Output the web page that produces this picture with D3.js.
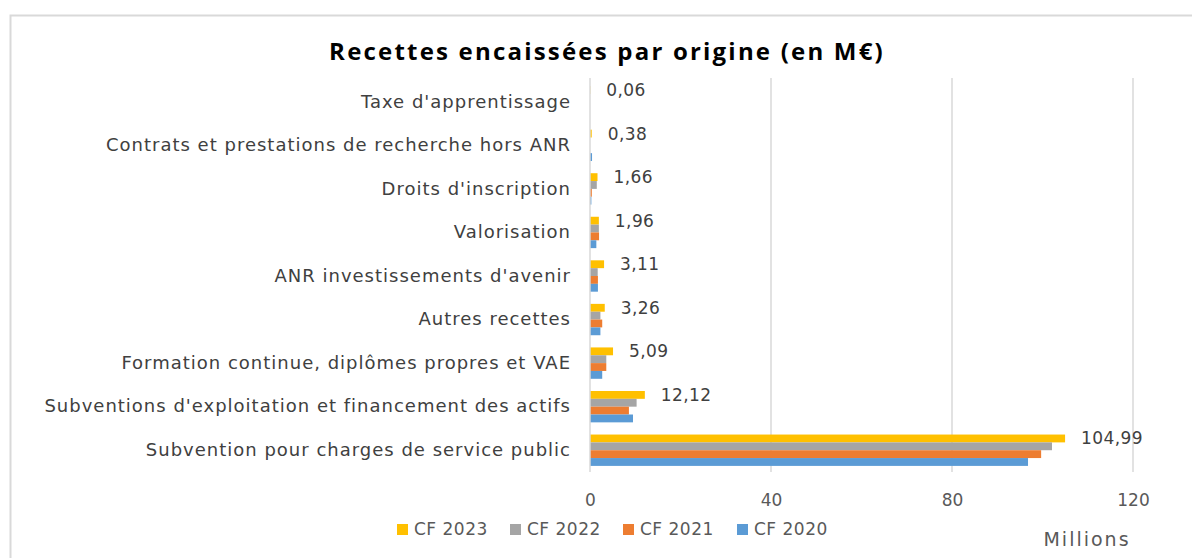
<!DOCTYPE html>
<html>
<head>
<meta charset="utf-8">
<script src="https://cdn.jsdelivr.net/npm/d3@7"></script>
<style>
  body { margin: 0; background: #fff; }
  svg { display: block; }
</style>
</head>
<body>
<svg id="chart"></svg>
<script>
// categories, top to bottom as in the chart
const categories = [
  "Taxe d'apprentissage",
  "Contrats et prestations de recherche hors ANR",
  "Droits d'inscription",
  "Valorisation",
  "ANR investissements d'avenir",
  "Autres recettes",
  "Formation continue, diplômes propres et VAE",
  "Subventions d'exploitation et financement des actifs",
  "Subvention pour charges de service public"
];
const seriesNames = ["CF 2023", "CF 2022", "CF 2021", "CF 2020"];
const cf2023 = [0.06, 0.38, 1.66, 1.96, 3.11, 3.26, 5.09, 12.12, 104.99];
const cf2022 = [0, 0, 1.5, 1.96, 1.7, 2.3, 3.6, 10.3, 102.1];
const cf2021 = [0, 0, 0.4, 2.0, 1.75, 2.7, 3.6, 8.6, 99.7];
const cf2020 = [0, 0.45, 0.3, 1.4, 1.75, 2.3, 2.7, 9.5, 96.8];
const xTicks = [0, 40, 80, 120];

const colors = ["#FFC000", "#A5A5A5", "#ED7D31", "#5B9BD5"];
const allSeries = [cf2023, cf2022, cf2021, cf2020];

const width = 1192, height = 558;
const svg = d3.select("#chart")
    .attr("width", width)
    .attr("height", height);

// chart frame (cut off on right and bottom like the screenshot)
svg.append("path")
    .attr("d", `M10.5,${height} V15.5 H${width}`)
    .attr("fill", "none")
    .attr("stroke", "#d9d9d9")
    .attr("stroke-width", 2);

svg.append("text")
    .attr("x", 607)
    .attr("y", 60)
    .attr("text-anchor", "middle")
    .attr("font-family", "'Open Sans', sans-serif")
    .attr("font-weight", "bold")
    .attr("font-size", 24)
    .attr("letter-spacing", 2.2)
    .attr("fill", "#000")
    .text("Recettes encaissées par origine (en M€)");

const x = d3.scaleLinear().domain([0, 120]).range([590, 1133]);

const y0 = d3.scaleBand()
    .domain(categories)
    .range([80, 472])
    .paddingInner(0.28)
    .paddingOuter(0.14);

const y1 = d3.scaleBand()
    .domain(seriesNames)
    .range([0, y0.bandwidth()]);

// gridlines
svg.append("g")
    .selectAll("line")
    .data(xTicks.slice(1))
    .join("line")
    .attr("x1", d => x(d)).attr("x2", d => x(d))
    .attr("y1", 78).attr("y2", 472)
    .attr("stroke", "#d9d9d9")
    .attr("stroke-width", 1.5);

// bars
const groups = svg.append("g")
    .selectAll("g")
    .data(categories)
    .join("g")
    .attr("transform", d => `translate(0,${y0(d)})`);

groups.selectAll("rect")
    .data((d, i) => seriesNames.map((s, j) => ({ s, v: allSeries[j][i], c: colors[j] })))
    .join("rect")
    .attr("x", x(0))
    .attr("y", d => y1(d.s))
    .attr("width", d => x(d.v) - x(0))
    .attr("height", y1.bandwidth())
    .attr("fill", d => d.c);

// data labels on CF 2023
groups.append("text")
    .attr("x", (d, i) => x(cf2023[i]) + 16)
    .attr("y", y1("CF 2023") + y1.bandwidth() / 2)
    .attr("dy", "0.35em")
    .attr("font-family", "'DejaVu Sans', sans-serif")
    .attr("font-size", 17)
    .attr("letter-spacing", 0.4)
    .attr("fill", "#404040")
    .text((d, i) => cf2023[i].toFixed(2).replace(".", ","));

// vertical axis line
svg.append("line")
    .attr("x1", x(0)).attr("x2", x(0))
    .attr("y1", 78).attr("y2", 472)
    .attr("stroke", "#d9d9d9")
    .attr("stroke-width", 1.5);

// category labels
const yAxis = svg.append("g")
    .attr("transform", `translate(${x(0)},0)`)
    .call(d3.axisLeft(y0).tickSize(0).tickPadding(19));
yAxis.select(".domain").remove();
yAxis.selectAll("text")
    .attr("font-family", "'DejaVu Sans', sans-serif")
    .attr("font-size", 18)
    .attr("letter-spacing", 1)
    .attr("fill", "#404040");

// x axis labels
const xAxis = svg.append("g")
    .attr("transform", "translate(0,472)")
    .call(d3.axisBottom(x).tickValues(xTicks).tickSize(0).tickPadding(22));
xAxis.select(".domain").remove();
xAxis.selectAll("text")
    .attr("font-family", "'DejaVu Sans', sans-serif")
    .attr("font-size", 17)
    .attr("fill", "#595959");

svg.append("text")
    .attr("x", 1087)
    .attr("y", 546)
    .attr("text-anchor", "middle")
    .attr("font-family", "'DejaVu Sans', sans-serif")
    .attr("font-size", 19)
    .attr("letter-spacing", 2)
    .attr("fill", "#595959")
    .text("Millions");

// legend
const legendX = [397, 510, 623, 737];
const legend = svg.append("g")
    .selectAll("g")
    .data(seriesNames)
    .join("g")
    .attr("transform", (d, i) => `translate(${legendX[i]},529)`);
legend.append("rect")
    .attr("x", 0).attr("y", -5)
    .attr("width", 11).attr("height", 11)
    .attr("fill", (d, i) => colors[i]);
legend.append("text")
    .attr("x", 17)
    .attr("dy", "0.35em")
    .attr("font-family", "'DejaVu Sans', sans-serif")
    .attr("font-size", 17)
    .attr("letter-spacing", 0.5)
    .attr("fill", "#595959")
    .text(d => d);
</script>
</body>
</html>
